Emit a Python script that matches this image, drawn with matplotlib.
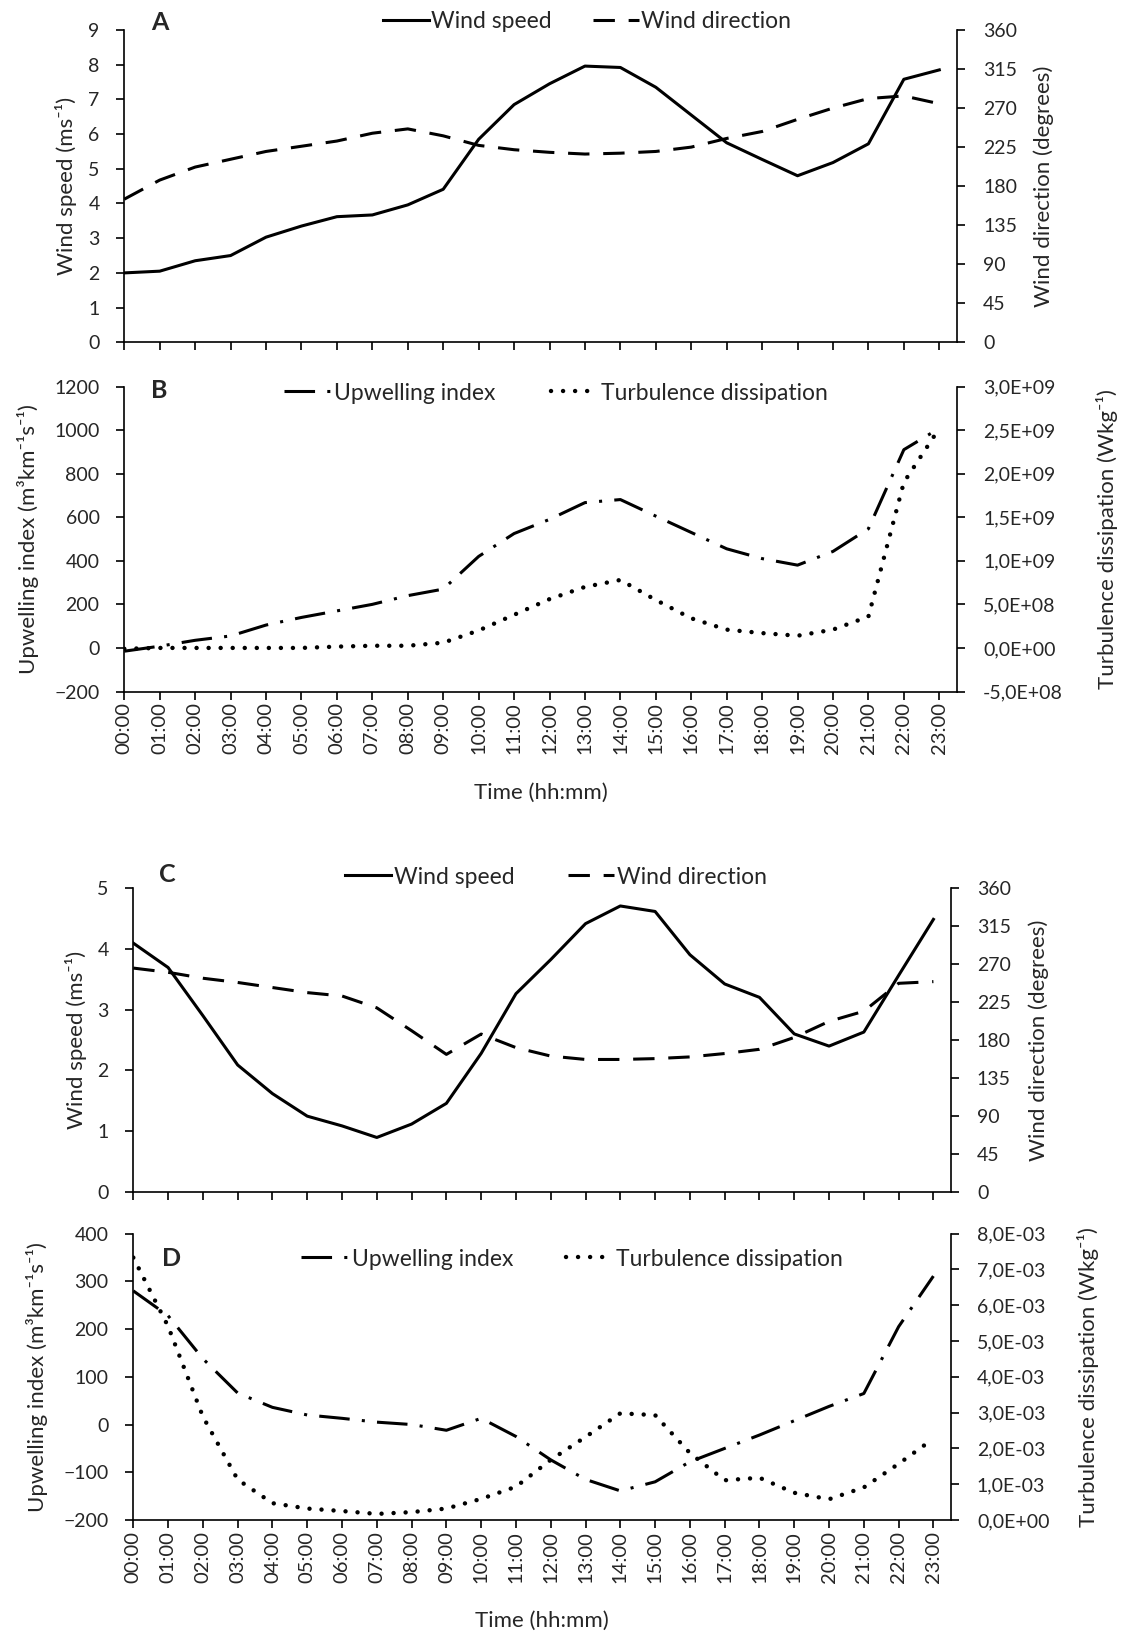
import matplotlib
matplotlib.use("Agg")
import matplotlib.pyplot as plt

plt.rcParams["font.family"] = ["Lato", "DejaVu Sans"]

W, H = 1126, 1638
INK = "#262626"

HOURS = list(range(24))
HOUR_LABELS = [f"{h:02d}:00" for h in HOURS]

# Panel A: wind speed (m/s) and direction (deg)
A_SPEED = [2.0, 2.05, 2.35, 2.5, 3.03, 3.35, 3.62, 3.67, 3.96, 4.41, 5.85, 6.85,
           7.45, 7.96, 7.92, 7.35, 6.55, 5.75, 5.27, 4.8, 5.18, 5.72, 7.58, 7.85]
A_DIR = [165, 187, 202, 211, 220, 226, 232, 241, 246, 238, 227, 222,
         219, 217, 218, 220, 225, 235, 243, 257, 270, 281, 284, 275]

# Panel B: upwelling index and turbulence dissipation
B_UPW = [-15, 8, 35, 55, 105, 140, 170, 200, 240, 270, 420, 525,
         590, 667, 681, 605, 530, 455, 410, 380, 443, 547, 910, 1008]
B_TURB = [-1e7, 0, 0, 0, 0, 0, 1.5e7, 2.5e7, 2.5e7, 6e7, 2.0e8, 3.8e8,
          5.6e8, 7.0e8, 7.8e8, 5.5e8, 3.4e8, 2.1e8, 1.7e8, 1.4e8, 2.1e8, 3.6e8, 1.9e9, 2.52e9]

# Panel C
C_SPEED = [4.09, 3.69, 2.9, 2.09, 1.62, 1.25, 1.09, 0.9, 1.12, 1.46, 2.28, 3.26,
           3.82, 4.41, 4.70, 4.61, 3.90, 3.42, 3.20, 2.60, 2.40, 2.63, 3.56, 4.48]
C_DIR = [265, 260, 253, 248, 242, 236, 232, 218, 191, 163, 187, 171,
         161, 157, 157, 158, 160, 164, 169, 183, 202, 214, 247, 249]

# Panel D
D_UPW = [280, 228, 138, 66, 36, 20, 13, 5, 0, -12, 13, -25,
         -74, -115, -139, -120, -78, -50, -22, 8, 38, 65, 205, 311]
D_TURB = [7.33e-3, 5.41e-3, 2.89e-3, 1.13e-3, 0.47e-3, 0.32e-3, 0.25e-3, 0.17e-3,
          0.22e-3, 0.32e-3, 0.59e-3, 0.93e-3, 1.68e-3, 2.32e-3, 2.98e-3, 2.93e-3,
          1.87e-3, 1.11e-3, 1.18e-3, 0.76e-3, 0.58e-3, 0.91e-3, 1.57e-3, 2.27e-3]

SPEED_A_TICKS = list(range(0, 10))
SPEED_C_TICKS = list(range(0, 6))
DIR_TICKS = list(range(0, 361, 45))
UPW_B_TICKS = list(range(-200, 1201, 200))
UPW_D_TICKS = list(range(-200, 401, 100))
TURB_B_TICKS = [-5e8, 0, 5e8, 1e9, 1.5e9, 2e9, 2.5e9, 3e9]
TURB_B_LABELS = ["-5,0E+08", "0,0E+00", "5,0E+08", "1,0E+09", "1,5E+09",
                 "2,0E+09", "2,5E+09", "3,0E+09"]
TURB_D_TICKS = [0, 1e-3, 2e-3, 3e-3, 4e-3, 5e-3, 6e-3, 7e-3, 8e-3]
TURB_D_LABELS = ["0,0E+00", "1,0E-03", "2,0E-03", "3,0E-03", "4,0E-03",
                 "5,0E-03", "6,0E-03", "7,0E-03", "8,0E-03"]

LW = 2.2
STYLE_SOLID = dict(color="black", lw=LW, linestyle="-")
STYLE_DASH = dict(color="black", lw=LW, linestyle=(0, (7, 4.5)))
STYLE_DASHDOT = dict(color="black", lw=LW, linestyle=(0, (10, 4, 1, 4)))
STYLE_DOT = dict(color="black", lw=3.2, linestyle=(0, (0.01, 2.7)),
                 dash_capstyle="round")

FS_TICK = 14
FS_LABEL = 16
FS_LEG = 16.5
HALF = 11  # half the height of a rotated axis label, px


def add_axes(fig, left, right, top, bottom):
    return fig.add_axes([left / W, 1 - bottom / H, (right - left) / W, (bottom - top) / H])


def style_pair(ax, ax2, show_xlabels):
    for a in (ax, ax2):
        a.spines["top"].set_visible(False)
        for s in a.spines.values():
            s.set_linewidth(1.2)
            s.set_color("black")
        a.tick_params(direction="out", length=5.8, width=1.2, colors="black",
                      labelcolor=INK, labelsize=FS_TICK)
    ax.spines["right"].set_visible(False)
    ax2.spines["left"].set_visible(False)
    ax2.spines["bottom"].set_visible(False)
    ax.tick_params(axis="y", pad=12)
    ax2.tick_params(axis="y", pad=13)
    ax.set_xlim(0, 23.5)
    ax.set_xticks(HOURS)
    if show_xlabels:
        ax.set_xticklabels(HOUR_LABELS, rotation=90, fontsize=14.5)
        ax.tick_params(axis="x", pad=2)
    else:
        ax.set_xticklabels([])


def xfrac(ax, px):
    pos = ax.get_position()
    return (px - pos.x0 * W) / (pos.width * W)


def yfrac(ax, px):
    pos = ax.get_position()
    top = (1 - pos.y1) * H
    return 1 - (px - top) / (pos.height * H)


def labels(ax, ax2, left_text, left_cx, right_text, right_cx, xlabel_cy=None):
    ax.set_ylabel(left_text, fontsize=FS_LABEL, color=INK)
    ax.yaxis.set_label_coords(xfrac(ax, left_cx + HALF), 0.5)
    ax2.set_ylabel(right_text, fontsize=FS_LABEL, color=INK, rotation=90)
    ax2.yaxis.set_label_coords(xfrac(ax, right_cx - HALF), 0.5)
    if xlabel_cy is not None:
        ax.set_xlabel("Time (hh:mm)", fontsize=FS_LABEL, color=INK)
        ax.xaxis.set_label_coords(0.5, yfrac(ax, xlabel_cy - HALF))


def legend(fig, handles, names, cx, cy, colsp, pad=0.2):
    fig.legend(handles, names, loc="center", bbox_to_anchor=(cx / W, 1 - cy / H),
               ncol=2, frameon=False, handlelength=2.0, handletextpad=pad,
               columnspacing=colsp, fontsize=FS_LEG, labelcolor=INK)


def letter(fig, text, x, y):
    fig.text(x / W, 1 - y / H, text, fontsize=18, fontweight="bold",
             va="center", ha="left", color=INK)


fig = plt.figure(figsize=(W / 100, H / 100), dpi=100, facecolor="white")

# ---------------- A ----------------
axA = add_axes(fig, 124.3, 957, 30, 342.3)
axA2 = axA.twinx()
lA1, = axA.plot(HOURS, A_SPEED, **STYLE_SOLID)
lA2, = axA2.plot(HOURS, A_DIR, **STYLE_DASH)
axA.set_ylim(0, 9)
axA.set_yticks(SPEED_A_TICKS)
axA2.set_ylim(0, 360)
axA2.set_yticks(DIR_TICKS)
style_pair(axA, axA2, False)
labels(axA, axA2, "Wind speed (ms⁻¹)", 66, "Wind direction (degrees)", 1044)
legend(fig, [lA1, lA2], ["Wind speed", "Wind direction"], 587, 22, 1.8, pad=0.1)
letter(fig, "A", 151, 22)

# ---------------- B ----------------
axB = add_axes(fig, 124.3, 957, 386.5, 691.5)
axB2 = axB.twinx()
lB1, = axB.plot(HOURS, B_UPW, **STYLE_DASHDOT)
lB2, = axB2.plot(HOURS, B_TURB, **STYLE_DOT)
axB.set_ylim(-200, 1200)
axB.set_yticks(UPW_B_TICKS)
axB2.set_ylim(-5e8, 3e9)
axB2.set_yticks(TURB_B_TICKS)
axB2.set_yticklabels(TURB_B_LABELS)
style_pair(axB, axB2, True)
labels(axB, axB2, "Upwelling index (m³km⁻¹s⁻¹)", 28,
       "Turbulence dissipation (Wkg⁻¹)", 1107, xlabel_cy=794)
legend(fig, [lB1, lB2], ["Upwelling index", "Turbulence dissipation"], 556, 393, 2.4)
letter(fig, "B", 151, 391)

# ---------------- C ----------------
axC = add_axes(fig, 133.3, 950.8, 887.7, 1192.3)
axC2 = axC.twinx()
lC1, = axC.plot(HOURS, C_SPEED, **STYLE_SOLID)
lC2, = axC2.plot(HOURS, C_DIR, **STYLE_DASH)
axC.set_ylim(0, 5)
axC.set_yticks(SPEED_C_TICKS)
axC2.set_ylim(0, 360)
axC2.set_yticks(DIR_TICKS)
style_pair(axC, axC2, False)
labels(axC, axC2, "Wind speed (ms⁻¹)", 76, "Wind direction (degrees)", 1039)
legend(fig, [lC1, lC2], ["Wind speed", "Wind direction"], 556, 877, 2.3, pad=0.15)
letter(fig, "C", 159, 875)

# ---------------- D ----------------
axD = add_axes(fig, 133.3, 950.8, 1233.6, 1520)
axD2 = axD.twinx()
lD1, = axD.plot(HOURS, D_UPW, **STYLE_DASHDOT)
lD2, = axD2.plot(HOURS, D_TURB, **STYLE_DOT)
axD.set_ylim(-200, 400)
axD.set_yticks(UPW_D_TICKS)
axD2.set_ylim(0, 8e-3)
axD2.set_yticks(TURB_D_TICKS)
axD2.set_yticklabels(TURB_D_LABELS)
style_pair(axD, axD2, True)
labels(axD, axD2, "Upwelling index (m³km⁻¹s⁻¹)", 37,
       "Turbulence dissipation (Wkg⁻¹)", 1088, xlabel_cy=1622)
legend(fig, [lD1, lD2], ["Upwelling index", "Turbulence dissipation"], 572, 1259, 2.3)
letter(fig, "D", 162, 1259)

fig.savefig("out.png", dpi=100, facecolor="white")
